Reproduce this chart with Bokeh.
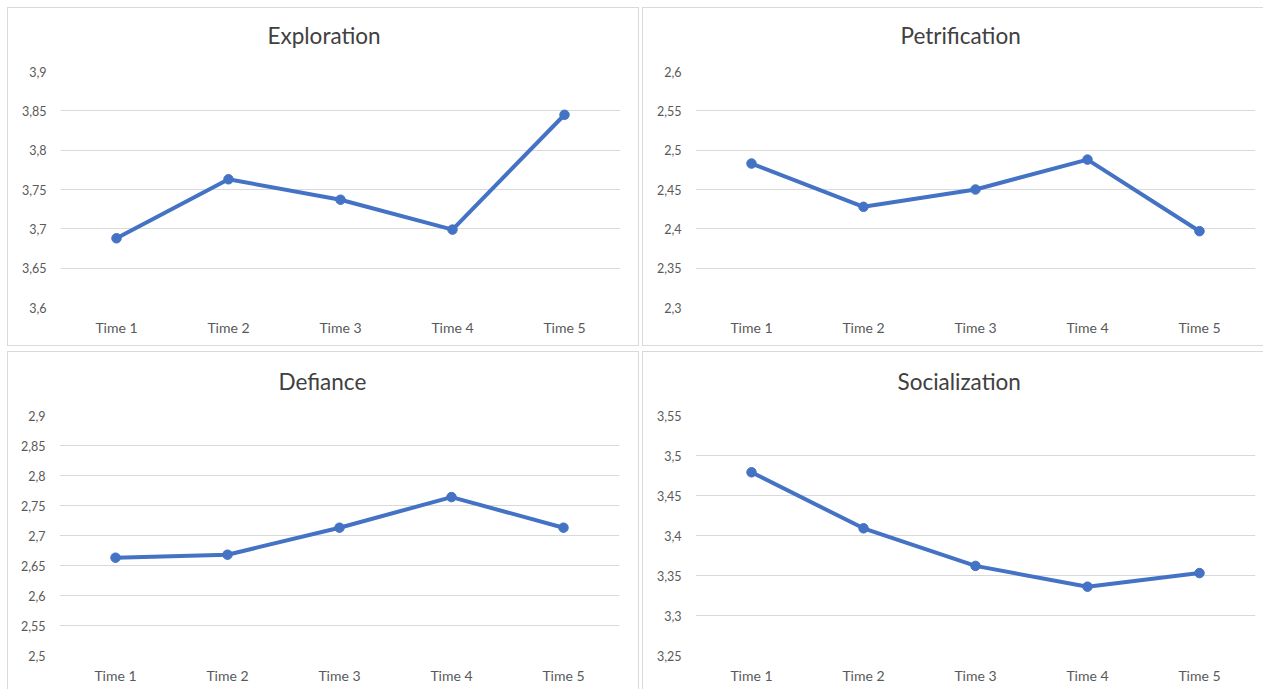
from bokeh.plotting import figure
from bokeh.models import FactorRange, Range1d, FixedTicker, Title
from bokeh.layouts import column, row
from bokeh.embed import file_html
from bokeh.resources import INLINE

times = ["Time 1", "Time 2", "Time 3", "Time 4", "Time 5"]

exploration = [3.688, 3.763, 3.737, 3.699, 3.845]
petrification = [2.483, 2.428, 2.450, 2.488, 2.397]
defiance = [2.663, 2.668, 2.713, 2.764, 2.713]
socialization = [3.479, 3.409, 3.362, 3.336, 3.353]

exploration_ticks = [3.6, 3.65, 3.7, 3.75, 3.8, 3.85, 3.9]
exploration_labels = ["3,6", "3,65", "3,7", "3,75", "3,8", "3,85", "3,9"]
petrification_ticks = [2.3, 2.35, 2.4, 2.45, 2.5, 2.55, 2.6]
petrification_labels = ["2,3", "2,35", "2,4", "2,45", "2,5", "2,55", "2,6"]
defiance_ticks = [2.5, 2.55, 2.6, 2.65, 2.7, 2.75, 2.8, 2.85, 2.9]
defiance_labels = ["2,5", "2,55", "2,6", "2,65", "2,7", "2,75", "2,8", "2,85", "2,9"]
socialization_ticks = [3.25, 3.3, 3.35, 3.4, 3.45, 3.5, 3.55]
socialization_labels = ["3,25", "3,3", "3,35", "3,4", "3,45", "3,5", "3,55"]

LINE = "#4472C4"
GRID = "#d9d9d9"
TEXT = "#595959"
FONT = "Lato"
BORDER = "1px solid #d9d9d9"


def make(title, values, ticks, labels, width, height, left, right, top, bottom,
         styles, title_offset, title_gap):
    p = figure(
        title=None,
        x_range=FactorRange(*times, range_padding=0),
        y_range=Range1d(ticks[0], ticks[-1]),
        width=width, height=height,
        output_backend="svg", toolbar_location=None,
        min_border_left=left, min_border_right=right,
        min_border_top=top, min_border_bottom=bottom,
    )
    p.styles = styles
    p.outline_line_color = None
    p.background_fill_color = "white"
    p.border_fill_color = "white"

    # spacer between the frame and the title
    p.add_layout(Title(text=" ", text_font_size="1px", standoff=title_gap), "above")
    p.add_layout(Title(
        text=title, align="left", offset=title_offset,
        vertical_align="middle", standoff=0,
        text_font=FONT, text_font_size="22.5px", text_font_style="normal",
        text_color="#404040",
    ), "above")

    p.xgrid.grid_line_color = None
    p.ygrid.grid_line_color = GRID
    p.ygrid.grid_line_width = 1

    p.yaxis.ticker = FixedTicker(ticks=ticks)
    p.yaxis.major_label_overrides = dict(zip(ticks, labels))
    for ax in (p.xaxis, p.yaxis):
        ax.axis_line_color = None
        ax.major_tick_line_color = None
        ax.minor_tick_line_color = None
        ax.major_label_text_font = FONT
        ax.major_label_text_color = TEXT
    p.xaxis.major_label_text_font_size = "14px"
    p.xaxis.major_label_standoff = 5
    p.yaxis.major_label_text_font_size = "12.5px"
    p.yaxis.major_label_standoff = 8

    p.line(x=times, y=values, line_color=LINE, line_width=4)
    p.scatter(x=times, y=values, size=9.5, fill_color=LINE, line_color=LINE)
    return p


full = {"border": BORDER}
no_right = {"border-left": BORDER, "border-top": BORDER, "border-bottom": BORDER}
no_bottom = {"border-left": BORDER, "border-top": BORDER, "border-right": BORDER}
top_left_only = {"border-left": BORDER, "border-top": BORDER}

p1 = make("Exploration", exploration, exploration_ticks, exploration_labels,
          632, 339, 52, 20, 63, 40, full, 207, 19)
p2 = make("Petrification", petrification, petrification_ticks, petrification_labels,
          621, 339, 52, 9, 63, 40, no_right, 205, 19)
p3 = make("Defiance", defiance, defiance_ticks, defiance_labels,
          632, 338, 51, 21, 63, 35, no_bottom, 219, 17)
p4 = make("Socialization", socialization, socialization_ticks, socialization_labels,
          621, 338, 52, 9, 63, 35, top_left_only, 202, 17)

layout = column(row(p1, p2, spacing=3), row(p3, p4, spacing=3), spacing=5)
layout.margin = (7, 0, 0, 7)

open("out.html", "w").write(file_html(layout, INLINE))
